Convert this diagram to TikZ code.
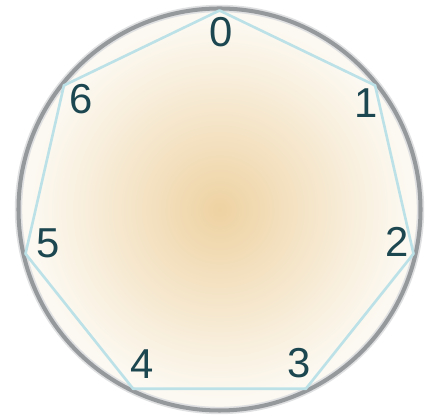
\documentclass[tikz,border=0pt]{standalone}
\usepackage{fontspec}
\setmainfont{Liberation Sans}
\usetikzlibrary{calc}
\definecolor{ringgray}{RGB}{150,153,156}
\definecolor{polycyan}{RGB}{188,226,232}
\definecolor{digitteal}{RGB}{28,70,80}
\definecolor{sandcore}{RGB}{238,210,162}
\definecolor{sandmid}{RGB}{246,232,207}
\definecolor{sandedge}{RGB}{252,249,242}
\pgfdeclareradialshading{sandglow}{\pgfpoint{0bp}{0bp}}{color(0bp)=(sandcore); color(13bp)=(sandmid); color(23.5bp)=(sandedge); color(50bp)=(sandedge)}

\begin{document}
\begin{tikzpicture}[
    x=0.02cm, y=0.02cm,
    ring/.style={draw=ringgray, line width=2.3pt},
    halo/.style={draw=ringgray!30, line width=4.2pt},
    edge/.style={draw=polycyan, line width=1.5pt, line join=round},
    digit/.style={font=\fontsize{23.8}{24}\selectfont, text=digitteal, inner sep=0pt},
  ]
  \useasboundingbox (0,0) rectangle (436,418);
  \coordinate (c) at (219.5,208.5);
  % disc
  \shade[shading=sandglow] (c) circle (201);
  \draw[halo] (c) circle (201);
  \draw[ring] (c) circle (201);
  % heptagon
  \foreach \k in {0,...,6}
    \coordinate (v\k) at ($(c)+({90-\k*360/7}:199)$);
  \draw[edge] (v0) -- (v1) -- (v2) -- (v3) -- (v4) -- (v5) -- (v6) -- cycle;
  % numbers
  \foreach \k/\a/\r in {0/89.5/177.5, 1/36/181, 2/-10.4/180.5, 3/-62.6/173,
                        4/-116.6/173, 5/191.3/175, 6/141.4/177}
    \node[digit] (n\k) at ($(c)+(\a:\r)$) {\k};
\end{tikzpicture}
\end{document}
